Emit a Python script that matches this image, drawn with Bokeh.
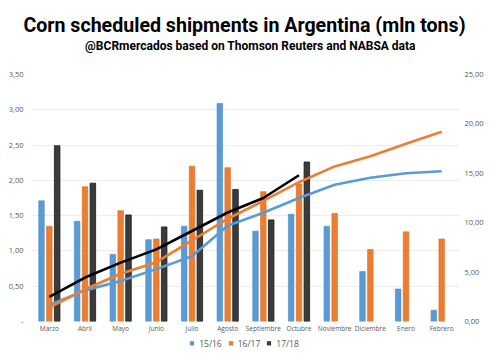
from bokeh.plotting import figure
from bokeh.layouts import column
from bokeh.models import (ColumnDataSource, FactorRange, Range1d, LinearAxis,
                          Legend, LegendItem, FixedTicker)
from bokeh.core.properties import value
from bokeh.transform import dodge
from bokeh.embed import file_html
from bokeh.resources import INLINE

title_text = "Corn scheduled shipments in Argentina (mln tons)"
subtitle_text = "@BCRmercados based on Thomson Reuters and NABSA data"

months = ["Marzo", "Abril", "Mayo", "Junio", "Julio", "Agosto", "Septiembre",
          "Octubre", "Noviembre", "Diciembre", "Enero", "Febrero"]
months_1718 = months[:8]
series_names = ["15/16", "16/17", "17/18"]

# Monthly shipments (left axis, mln tons)
s1516 = [1.71, 1.42, 0.95, 1.16, 1.35, 3.09, 1.28, 1.52, 1.35, 0.71, 0.46, 0.16]
s1617 = [1.35, 1.91, 1.57, 1.17, 2.20, 2.18, 1.84, 1.95, 1.53, 1.02, 1.27, 1.17]
s1718 = [2.49, 1.96, 1.51, 1.34, 1.86, 1.87, 1.44, 2.26]

# Cumulative shipments (right axis, mln tons)
c1516 = [1.68, 3.15, 4.10, 5.30, 6.60, 9.70, 11.0, 12.5, 13.85, 14.55, 15.0, 15.2]
c1617 = [1.40, 3.26, 4.83, 6.00, 8.20, 10.40, 12.2, 14.1, 15.7, 16.72, 18.0, 19.2]
c1718 = [2.50, 4.45, 5.96, 7.30, 9.16, 11.03, 12.5, 14.8]

left_ticks = [0, 0.5, 1.0, 1.5, 2.0, 2.5, 3.0, 3.5]
left_labels = ["-", "0,50", "1,00", "1,50", "2,00", "2,50", "3,00", "3,50"]
right_ticks = [0, 5, 10, 15, 20, 25]
right_labels = ["0,00", "5,00", "10,00", "15,00", "20,00", "25,00"]

BLUE = "#5B9BD5"
ORANGE = "#ED7D31"
DARK = "#3B3B3B"
AXIS_FONT = "Open Sans"
TXT = "#595959"
TFONT = "Roboto"

# ---------- title strip (title in the above panel, subtitle as text in the frame) ----------
tf = figure(width=484, frame_height=30, x_range=Range1d(31, 459), y_range=Range1d(66, 36),
            output_backend="svg", toolbar_location=None, min_border=0, min_border_top=36,
            x_axis_location=None, y_axis_location=None)
tf.outline_line_color = None
tf.xgrid.visible = False
tf.ygrid.visible = False
tf.title.text = title_text
tf.title.align = "center"
tf.title.offset = 5
tf.title.standoff = 0
tf.title.text_font = TFONT
tf.title.text_font_size = "19.6px"
tf.title.text_font_style = "bold"
tf.title.text_color = "black"
tf.text(x=[251], y=[45], text=[subtitle_text], text_align="center", text_baseline="middle",
        text_font=value(TFONT), text_font_style="bold", text_font_size=value("12px"),
        text_color="black")

# ---------- main chart ----------
src_a = ColumnDataSource(dict(m=months, a=s1516, b=s1617, ca=c1516, cb=c1617))
src_c = ColumnDataSource(dict(m=months_1718, c=s1718, cc=c1718))

p = figure(frame_width=428, frame_height=247, title=None,
           x_range=FactorRange(*months, range_padding=0),
           y_range=Range1d(0, 3.5), output_backend="svg", toolbar_location=None,
           min_border_left=31, min_border_right=25,
           min_border_top=8, min_border_bottom=11)
p.extra_y_ranges = {"right": Range1d(0, 25)}
p.outline_line_color = None
p.background_fill_color = "white"
p.border_fill_color = "white"

w = 0.155
p.vbar(x=dodge("m", -0.22, range=p.x_range), top="a", width=w, source=src_a,
       fill_color=BLUE, line_color="#4A8AC4", line_width=0.6)
p.vbar(x=dodge("m", 0.0, range=p.x_range), top="b", width=w, source=src_a,
       fill_color=ORANGE, line_color="#D96C22", line_width=0.6)
p.vbar(x=dodge("m", 0.22, range=p.x_range), top="c", width=w, source=src_c,
       fill_color=DARK, line_color="#1A1A1A", line_width=0.8)

p.line(x="m", y="ca", source=src_a, y_range_name="right", line_color=BLUE, line_width=2.6)
p.line(x="m", y="cb", source=src_a, y_range_name="right", line_color=ORANGE, line_width=2.6)
p.line(x="m", y="cc", source=src_c, y_range_name="right", line_color="black", line_width=2.6)

p.yaxis.ticker = FixedTicker(ticks=left_ticks)
p.yaxis.major_label_overrides = dict(zip(left_ticks, left_labels))
ax_r = LinearAxis(y_range_name="right", ticker=FixedTicker(ticks=right_ticks),
                  major_label_overrides=dict(zip(right_ticks, right_labels)))
p.add_layout(ax_r, "right")
for ax in [p.xaxis[0], p.yaxis[0], ax_r]:
    ax.axis_line_color = None
    ax.major_tick_line_color = None
    ax.minor_tick_line_color = None
    ax.major_tick_out = 0
    ax.major_tick_in = 0
    ax.minor_tick_out = 0
    ax.minor_tick_in = 0
    ax.major_label_text_font = AXIS_FONT
    ax.major_label_text_font_size = "7.5px"
    ax.major_label_text_color = TXT
p.yaxis[0].major_label_standoff = 8
ax_r.major_label_standoff = 5
p.xaxis.major_label_text_font_size = "6.5px"
p.xaxis.major_label_standoff = 2

p.xgrid.grid_line_color = None
p.ygrid.ticker = FixedTicker(ticks=left_ticks)
p.ygrid.grid_line_color = "#EDEDED"
p.ygrid.grid_line_width = 1

# ---------- legend strip ----------
lf = figure(width=484, height=15, x_range=Range1d(0, 1), y_range=Range1d(0, 1),
            output_backend="svg", toolbar_location=None, min_border=0, title=None,
            x_axis_location=None, y_axis_location=None)
lf.outline_line_color = None
lf.xgrid.visible = False
lf.ygrid.visible = False
hidden = ColumnDataSource(dict(x=[-10.0], top=[-10.0]))
items = []
for name, fc, lc in zip(series_names, [BLUE, ORANGE, DARK], ["#4A8AC4", "#D96C22", "#1A1A1A"]):
    r = lf.vbar(x="x", top="top", width=0.1, source=hidden, fill_color=fc, line_color=lc,
                line_width=0.5)
    items.append(LegendItem(label=name, renderers=[r]))
legend = Legend(items=items, orientation="horizontal", location="center",
                glyph_width=5, glyph_height=5, label_text_font=AXIS_FONT,
                label_text_font_size="8.5px", label_text_color=TXT,
                label_standoff=5, spacing=6, padding=0, margin=0,
                border_line_color=None, background_fill_alpha=0,
                label_height=10)
lf.add_layout(legend)

layout = column(tf, p, lf, spacing=0)
open("out.html", "w").write(file_html(layout, INLINE))
